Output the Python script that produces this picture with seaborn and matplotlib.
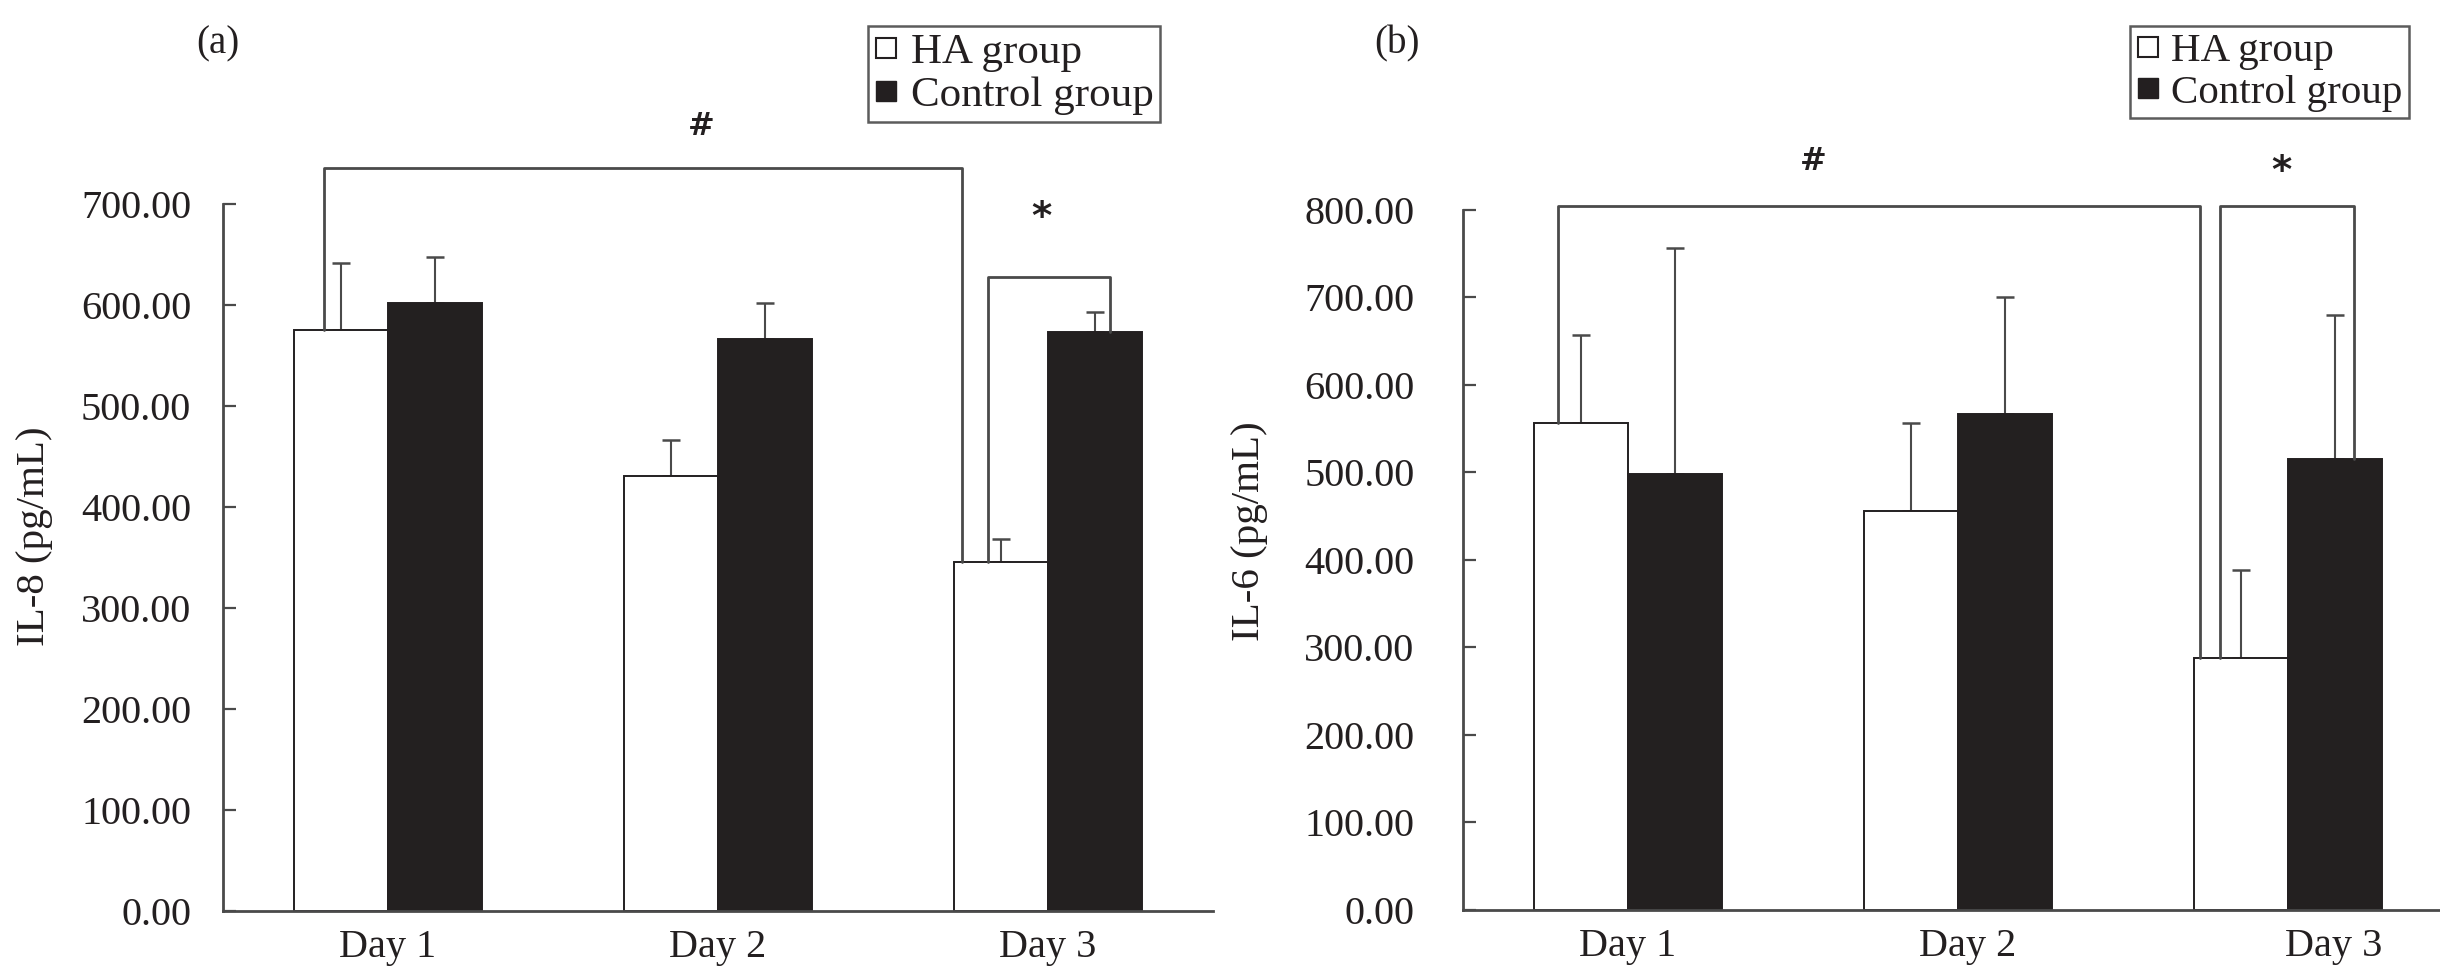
import numpy as np
import pandas as pd
import matplotlib
matplotlib.use("Agg")
import matplotlib.pyplot as plt
import seaborn as sns
from matplotlib.lines import Line2D

# values
days = ["Day 1", "Day 2", "Day 3"]
groups = ["HA group", "Control group"]

il8_ha = [575, 430, 345]
il8_ha_sd = [66, 36, 23]
il8_ctrl = [602, 566, 573]
il8_ctrl_sd = [45, 36, 20]

il6_ha = [556, 456, 288]
il6_ha_sd = [101, 100, 100]
il6_ctrl = [498, 566, 515]
il6_ctrl_sd = [258, 134, 165]

INK = "#231f20"
LINE = "#4a4a4a"

sns.set_theme(style="white")
plt.rcParams["font.family"] = ["Liberation Serif", "DejaVu Serif"]
plt.rcParams["text.color"] = INK
plt.rcParams["axes.labelcolor"] = INK
plt.rcParams["xtick.color"] = INK
plt.rcParams["ytick.color"] = INK


def make_frame(ha, ctrl):
    """long table for seaborn: one row per bar"""
    return pd.DataFrame({
        "day": days * 2,
        "group": [groups[0]] * 3 + [groups[1]] * 3,
        "value": list(ha) + list(ctrl),
    })


def draw_panel(ax, ha, ha_sd, ctrl, ctrl_sd, ymax, ylabel, pad):
    df = make_frame(ha, ctrl)
    sns.barplot(data=df, x="day", y="value", hue="group", hue_order=groups,
                palette=["white", INK], width=0.57, gap=0, errorbar=None,
                edgecolor=INK, linewidth=1.4, legend=False, ax=ax, zorder=2)
    # upper-only error bars on top of each bar
    for cont, sd in zip(ax.containers, [ha_sd, ctrl_sd]):
        xs = [p.get_x() + p.get_width() / 2 for p in cont.patches]
        hs = [p.get_height() for p in cont.patches]
        ax.errorbar(xs, hs, yerr=[np.zeros(3), sd], fmt="none", ecolor=LINE,
                    elinewidth=1.5, capsize=6.5, capthick=1.8, zorder=1)
    ax.set_xlim(-0.5, 2.5)
    ax.set_ylim(0, ymax)
    ax.set_yticks(np.arange(0, ymax + 1, 100))
    ax.yaxis.set_major_formatter(matplotlib.ticker.FormatStrFormatter("%.2f"))
    ax.set_xticks([0.5, 1.5], minor=True)
    ax.tick_params(axis="x", which="major", length=0, pad=13, labelsize=29)
    ax.tick_params(axis="x", which="minor", direction="in", length=8, width=1.6, color=LINE)
    ax.tick_params(axis="y", direction="in", length=9, width=1.6, color=LINE,
                   pad=pad, labelsize=29, left=True)
    ax.set_xlabel("")
    ax.set_ylabel(ylabel, fontsize=29.5)
    for s in ["top", "right"]:
        ax.spines[s].set_visible(False)
    for s in ["left", "bottom"]:
        ax.spines[s].set_color(LINE)
        ax.spines[s].set_linewidth(2)


def bracket(ax, x0, x1, y, y0, y1, label, ly, lx, size):
    ax.plot([x0, x0, x1, x1], [y0, y, y, y1], color=LINE, lw=2, clip_on=False, zorder=3)
    ax.text(lx, ly, label, ha="center", va="center", fontsize=size,
            fontweight="bold", family=["DejaVu Sans"], clip_on=False)


fig = plt.figure(figsize=(24.4, 9.67), dpi=100)
ax1 = fig.add_axes([0.0914, 0.0579, 0.4057, 0.7316])
ax2 = fig.add_axes([0.5996, 0.0593, 0.4057, 0.7239])

draw_panel(ax1, il8_ha, il8_ha_sd, il8_ctrl, il8_ctrl_sd, 700, "IL-8 (pg/mL)", 23)
draw_panel(ax2, il6_ha, il6_ha_sd, il6_ctrl, il6_ctrl_sd, 800, "IL-6 (pg/mL)", 35)
ax1.yaxis.set_label_coords(-0.172, 0.53)
ax2.yaxis.set_label_coords(-0.197, 0.54)
ax2.set_xticks([0, 1.03, 2.14])

# significance brackets
bracket(ax1, -0.194, 1.74, 735, il8_ha[0], il8_ha[2], "#", 776, 0.95, 23)
bracket(ax1, 1.818, 2.188, 627, il8_ha[2], il8_ctrl[2], "*", 686, 1.98, 28)
bracket(ax2, -0.211, 1.733, 804, il6_ha[0], il6_ha[2], "#", 855, 0.56, 23)
bracket(ax2, 1.794, 2.20, 804, il6_ha[2], il6_ctrl[2], "*", 843, 1.98, 28)

fig.text(0.0893, 0.955, "(a)", fontsize=28, ha="center", va="center")
fig.text(0.5725, 0.955, "(b)", fontsize=28, ha="center", va="center")


def add_legend(xa, size):
    handles = [
        Line2D([], [], marker="s", linestyle="none", markersize=15,
               markerfacecolor="white", markeredgecolor=INK, markeredgewidth=1.5),
        Line2D([], [], marker="s", linestyle="none", markersize=15,
               markerfacecolor=INK, markeredgecolor=INK),
    ]
    leg = fig.legend(handles, groups, loc="upper left", bbox_to_anchor=(xa, 0.973),
                     fontsize=size, frameon=True, fancybox=False, handlelength=0.55,
                     handletextpad=0.3, labelspacing=0.1, borderpad=0.15,
                     borderaxespad=0)
    leg.get_frame().set_edgecolor("#333333")
    leg.get_frame().set_linewidth(1.8)


add_legend(0.3557, 31)
add_legend(0.873, 29.5)

fig.savefig("out.png", dpi=100)
